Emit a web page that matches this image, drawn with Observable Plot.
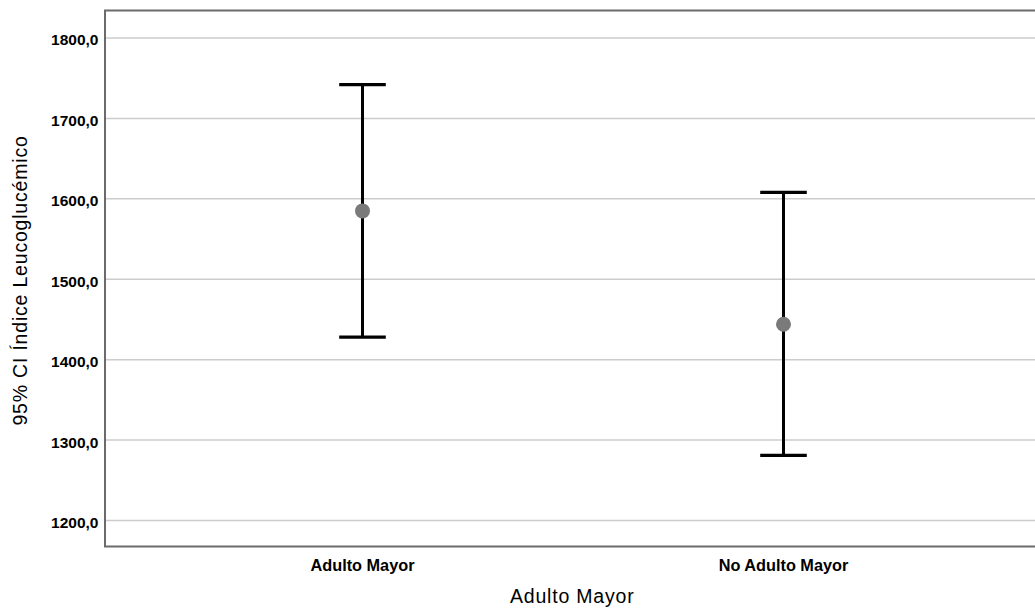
<!DOCTYPE html>
<html>
<head>
<meta charset="utf-8">
<script src="https://cdn.jsdelivr.net/npm/d3@7"></script>
<script src="https://cdn.jsdelivr.net/npm/@observablehq/plot@0.6"></script>
<style>
  html, body { margin: 0; padding: 0; background: #fff; }
  #chart { width: 1035px; height: 611px; overflow: hidden; }
</style>
</head>
<body>
<div id="chart"></div>
<script>
const categories = ["Adulto Mayor", "No Adulto Mayor"];
const means = [1585, 1444];
const lower = [1428, 1281];
const upper = [1742, 1608];
const yTicks = [1200, 1300, 1400, 1500, 1600, 1700, 1800];
const xTitle = "Adulto Mayor";
const yTitle = "95% CI Índice Leucoglucémico";

const data = categories.map((c, i) => ({cat: c, mean: means[i], lo: lower[i], hi: upper[i]}));

const capSymbol = {
  draw(context, size) {
    const r = Math.sqrt(size / Math.PI);
    context.moveTo(-r, 0);
    context.lineTo(r, 0);
  }
};

const frameMark = (index, scales, values, dims) => {
  const {width, height, marginLeft, marginTop, marginBottom} = dims;
  return d3.create("svg:path")
    .attr("d", `M${width + 20},${marginTop}H${marginLeft}V${height - marginBottom}H${width + 20}`)
    .attr("fill", "none")
    .attr("stroke", "#6b6b6b")
    .attr("stroke-width", 2)
    .node();
};

const fmt = d => d.toFixed(1).replace(".", ",");

const chart = Plot.plot({
  width: 1035,
  height: 611,
  marginLeft: 105,
  marginRight: 0,
  marginTop: 10.5,
  marginBottom: 64.5,
  style: {fontFamily: "'Liberation Sans', Arial, sans-serif", background: "#fff", color: "#000", overflow: "hidden"},
  x: {type: "point", domain: categories, range: [361.7, 783.3], padding: 0},
  y: {domain: [1167, 1833.6]},
  marks: [
    Plot.gridY(yTicks, {stroke: "#cccccc", strokeOpacity: 1, strokeWidth: 1.5}),
    Plot.axisY(yTicks, {tickSize: 0, tickPadding: 7, tickFormat: fmt, fontSize: 15.5, fontWeight: "bold", dy: 2.5, label: null}),
    Plot.axisX({tickSize: 0, tickPadding: 12, fontSize: 16.3, fontWeight: "bold", label: null}),
    frameMark,
    Plot.ruleX(data, {x: "cat", y1: "lo", y2: "hi", stroke: "#000", strokeWidth: 3}),
    Plot.dot(data, {x: "cat", y: "hi", symbol: capSymbol, r: 23.3, stroke: "#000", strokeWidth: 3.2, fill: "none"}),
    Plot.dot(data, {x: "cat", y: "lo", symbol: capSymbol, r: 23.3, stroke: "#000", strokeWidth: 3.2, fill: "none"}),
    Plot.dot(data, {x: "cat", y: "mean", r: 7.5, fill: "#7a7a7a", stroke: "none"}),
    Plot.text([xTitle], {frameAnchor: "bottom", dx: 1.7, dy: 55.5, fontSize: 19.5, fill: "#000", textAnchor: "middle"}),
    Plot.text([yTitle], {frameAnchor: "left", rotate: -90, dx: -84.5, dy: 1.5, fontSize: 19.5, fill: "#000", textAnchor: "middle"})
  ]
});
chart.querySelectorAll("g[aria-label='text'] text").forEach(t => t.style.letterSpacing = "0.8px");
document.getElementById("chart").appendChild(chart);
</script>
</body>
</html>
